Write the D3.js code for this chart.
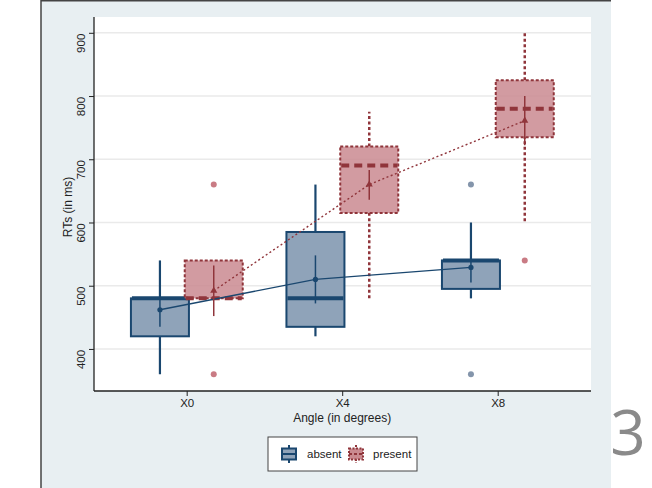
<!DOCTYPE html>
<html><head><meta charset="utf-8">
<script src="https://cdn.jsdelivr.net/npm/d3@7"></script>
<style>body{margin:0;background:#fff;}svg{display:block;font-family:"Liberation Sans",Arial,sans-serif;}</style>
</head><body>
<svg id="c" width="652" height="488"></svg>
<script>
const categories = ["X0","X4","X8"];
const groups = ["absent","present"];
const yTicks = [400,500,600,700,800,900];
// per group, per category
const q1 = {absent:[420,435,495], present:[480,615,735]};
const median = {absent:[480,480,540], present:[480,690,780]};
const q3 = {absent:[480,585,540], present:[540,720,825]};
const whiskLow = {absent:[360,420,480], present:[480,480,602]};
const whiskHigh = {absent:[540,660,600], present:[540,775,900]};
const means = {absent:[462,510,529], present:[492,660,761]};
const ciLow = {absent:[435,472,505], present:[452,636,722]};
const ciHigh = {absent:[489,548,553], present:[532,683,800]};
const outliers = {absent:[[],[],[660,360]], present:[[660,360],[],[540]]};

const style = {
  absent:{fill:"#8fa3b9", stroke:"#1a476f", dash:null, medDash:null, out:"#8495ab"},
  present:{fill:"#ca8a90", stroke:"#90353b", dash:"3,2", medDash:"8,5", out:"#c97b84"}
};

const svg = d3.select("#c");
// panel
svg.append("rect").attr("x",41).attr("y",0).attr("width",570).attr("height",488).attr("fill","#e8eff2");
svg.append("line").attr("x1",41).attr("x2",41).attr("y1",0).attr("y2",488).attr("stroke","#444").attr("stroke-width",1.5);
svg.append("line").attr("x1",41).attr("x2",611).attr("y1",0.75).attr("y2",0.75).attr("stroke","#444").attr("stroke-width",1.5);
svg.append("text").attr("x",628).attr("y",455).attr("text-anchor","middle").attr("font-size",62)
  .attr("font-family","'Open Sans',sans-serif").attr("fill","#8a8a8a").text("3");

const L=94,R=591,T=17,B=391;
svg.append("rect").attr("x",L).attr("y",T).attr("width",R-L).attr("height",B-T).attr("fill","#fff");

const x = d3.scaleLinear().domain([-0.596,2.6]).range([L,R]);
const y = d3.scaleLinear().domain([333.5,925]).range([B,T]);
const off = d3.scaleOrdinal().domain(groups).range([-0.172,0.174]);
const bw = x(0.373)-x(0);

// grid
svg.append("g").selectAll("line").data(yTicks).join("line")
  .attr("x1",L).attr("x2",R).attr("y1",d=>y(d)).attr("y2",d=>y(d))
  .attr("stroke","#eaeaea").attr("stroke-width",1.5);

// boxes
groups.forEach(g=>{
  const s=style[g];
  const cx=i=>x(i+off(g));
  const G=svg.append("g");
  categories.forEach((c,i)=>{
    [[whiskLow[g][i],q1[g][i]],[q3[g][i],whiskHigh[g][i]]].forEach(([a,b])=>{
      if(a===b) return;
      G.append("line").attr("x1",cx(i)).attr("x2",cx(i)).attr("y1",y(a)).attr("y2",y(b))
        .attr("stroke",s.stroke).attr("stroke-width",g==="present"?2.5:2.2).attr("stroke-dasharray",g==="present"?"3,2.5":null);
    });
    G.append("rect").attr("x",cx(i)-bw/2).attr("width",bw).attr("y",y(q3[g][i])).attr("height",y(q1[g][i])-y(q3[g][i]))
      .attr("fill",s.fill).attr("fill-opacity",g==="present"?0.85:1)
      .attr("stroke",s.stroke).attr("stroke-width",2).attr("stroke-dasharray",s.dash);
    G.append("line").attr("x1",cx(i)-bw/2+1).attr("x2",cx(i)+bw/2-1).attr("y1",y(median[g][i])).attr("y2",y(median[g][i]))
      .attr("stroke",s.stroke).attr("stroke-width",4).attr("stroke-dasharray",s.medDash);
    outliers[g][i].forEach(v=>{
      G.append("circle").attr("cx",cx(i)).attr("cy",y(v)).attr("r",3).attr("fill",s.out);
    });
  });
});

// means, CI and lines
groups.forEach(g=>{
  const s=style[g];
  const cx=i=>x(i+off(g));
  const G=svg.append("g");
  G.append("path").datum(categories.map((c,i)=>[cx(i),y(means[g][i])]))
    .attr("d",d3.line()).attr("fill","none").attr("stroke",s.stroke)
    .attr("stroke-width",g==="present"?1.4:1.3).attr("stroke-dasharray",g==="present"?"2,2.5":null);
  categories.forEach((c,i)=>{
    G.append("line").attr("x1",cx(i)).attr("x2",cx(i)).attr("y1",y(ciLow[g][i])).attr("y2",y(ciHigh[g][i]))
      .attr("stroke",s.stroke).attr("stroke-width",1.5);
    if(g==="absent"){
      G.append("circle").attr("cx",cx(i)).attr("cy",y(means[g][i])).attr("r",2.6).attr("fill",s.stroke);
    } else {
      G.append("path").attr("d",d3.symbol(d3.symbolTriangle,22)()).attr("transform",`translate(${cx(i)},${y(means[g][i])})`).attr("fill",s.stroke);
    }
  });
});

// axes
const ya = svg.append("g").attr("transform",`translate(${L},0)`)
  .call(d3.axisLeft(y).tickValues(yTicks).tickSize(5).tickPadding(8).tickFormat(d3.format("d")));
ya.select(".domain").attr("stroke","#222").attr("stroke-width",1.3).attr("d",`M0,${T}V${B}`);
ya.selectAll(".tick line").attr("stroke","#222");
ya.selectAll(".tick text").attr("font-size",11.5).attr("fill","#222")
  .attr("transform","rotate(-90)").attr("x",-10).attr("y",-9).attr("dy",0).attr("text-anchor","middle");

const xa = svg.append("g").attr("transform",`translate(0,${B})`)
  .call(d3.axisBottom(x).tickValues([0,1,2]).tickSize(5).tickPadding(3).tickFormat(i=>categories[i]));
xa.select(".domain").attr("stroke","#222").attr("stroke-width",1.3).attr("d",`M${L},0H${R}`);
xa.selectAll(".tick line").attr("stroke","#222");
xa.selectAll(".tick text").attr("font-size",11.5).attr("fill","#222");

svg.append("text").attr("x",(x(0)+x(2))/2).attr("y",422).attr("text-anchor","middle").attr("font-size",12).attr("fill","#222").text("Angle (in degrees)");
svg.append("text").attr("transform",`translate(72,${(T+B)/2+3}) rotate(-90)`).attr("text-anchor","middle").attr("font-size",12).attr("fill","#222").text("RTs (in ms)");

// legend
const lg=svg.append("g");
lg.append("rect").attr("x",268).attr("y",437).attr("width",149).attr("height",34).attr("fill","#fff").attr("stroke","#444").attr("stroke-width",1);
const keys=[{g:"absent",kx:289,tx:307},{g:"present",kx:356,tx:373}];
keys.forEach(k=>{
  const s=style[k.g];
  const ky=454;
  lg.append("line").attr("x1",k.kx).attr("x2",k.kx).attr("y1",ky-9).attr("y2",ky+9).attr("stroke",s.stroke).attr("stroke-width",2).attr("stroke-dasharray",k.g==="present"?"2,1.5":null);
  lg.append("rect").attr("x",k.kx-7).attr("y",ky-5.5).attr("width",14).attr("height",11).attr("fill",s.fill)
    .attr("stroke",s.stroke).attr("stroke-width",2).attr("stroke-dasharray",k.g==="present"?"2,1.5":null);
  lg.append("line").attr("x1",k.kx-7).attr("x2",k.kx+7).attr("y1",ky).attr("y2",ky).attr("stroke",s.stroke).attr("stroke-width",2).attr("stroke-dasharray",k.g==="present"?"3,2":null);
  lg.append("text").attr("x",k.tx).attr("y",ky+4).attr("font-size",11.5).attr("fill","#222").text(k.g);
});
</script>
</body></html>
